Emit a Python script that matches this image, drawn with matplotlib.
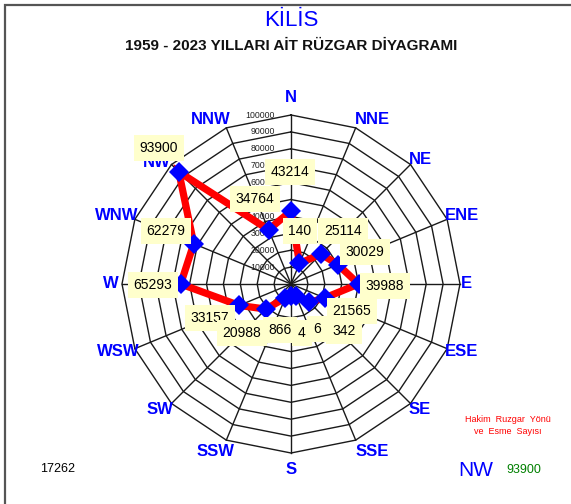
import matplotlib.pyplot as plt
import numpy as np
from matplotlib.patches import Rectangle

plt.rcParams['font.family'] = ['Liberation Sans', 'DejaVu Sans']

# Wind directions (clockwise from north) and counts
directions = ['N', 'NNE', 'NE', 'ENE', 'E', 'ESE', 'SE', 'SSE',
              'S', 'SSW', 'SW', 'WSW', 'W', 'WNW', 'NW', 'NNW']
counts = [43214, 13140, 25114, 30029, 39988, 21565, 15342, 7806,
          7304, 8866, 20988, 33157, 65293, 62279, 93900, 34764]
# labels as they show in the boxes (some are partly hidden by other boxes)
box_texts = ['43214', '140', '25114', '30029', '39988', '21565', '342', '6',
             '4', '866', '20988', '33157', '65293', '62279', '93900', '34764']
rings = [10000, 20000, 30000, 40000, 50000, 60000, 70000, 80000, 90000, 100000]

station = 'KİLİS'
subtitle = '1959 - 2023 YILLARI AİT RÜZGAR DİYAGRAMI'
calm_count = 17262
dominant_dir = 'NW'
dominant_count = 93900

# pixel layout helpers
W, H = 571, 504
cx, cy = 291, 284
scale = 100000 / 169.0


def px(x, y):
    return ((x - cx) * scale, (cy - y) * scale)


fig = plt.figure(figsize=(W / 100, H / 100), dpi=100)
ax = fig.add_axes([0, 0, 1, 1])
ax.set_xlim(px(0, 0)[0], px(W, 0)[0])
ax.set_ylim(px(0, H)[1], px(0, 0)[1])
ax.set_aspect('equal')
ax.axis('off')

# frame
fig.patches.append(Rectangle((5 / W, -0.1), 1.2, (H - 5) / H + 0.1, transform=fig.transFigure,
                             fill=False, edgecolor='#555555', linewidth=1.6))

ang = np.deg2rad(np.arange(16) * 22.5)

# polygon grid
for r in rings:
    xs = r * np.sin(np.append(ang, ang[0]))
    ys = r * np.cos(np.append(ang, ang[0]))
    ax.plot(xs, ys, color='#1a1a1a', lw=1.0, zorder=1)
for a in ang:
    ax.plot([0, rings[-1] * np.sin(a)], [0, rings[-1] * np.cos(a)], color='#1a1a1a', lw=1.0, zorder=1)

# ring values along north axis
for r in rings:
    x, _ = px(275, 0)
    ax.text(x, r, str(r), fontsize=6.3, ha='right', va='center', color='#222222', zorder=2)

# direction names (pixel positions of the names)
dir_pos = [(291, 98), (372, 120), (420, 160), (462, 216), (466, 284), (462, 352),
           (420, 410), (372, 451), (291, 470), (216, 451), (160, 410), (118, 352),
           (111, 284), (117, 216), (157, 163), (211, 120)]
for d, p in zip(directions, dir_pos):
    ax.text(*px(*p), d, fontsize=12, fontweight='bold', color='#0000FF',
            ha='center', va='center', zorder=2)

# rose line
c = np.array(counts, dtype=float)
xs = c * np.sin(ang)
ys = c * np.cos(ang)
ax.plot(np.append(xs, xs[0]), np.append(ys, ys[0]), color='#FF0000', lw=5.2, zorder=3,
        solid_joinstyle='miter')
ax.plot(xs, ys, 'D', color='#0000FF', markersize=10.5, zorder=4, markeredgewidth=0)

# value boxes (pixel positions of the label boxes)
box_pos = [(290, 172), (300, 231), (343, 231), (365, 252), (385, 286), (352, 311),
           (344, 331), (317, 329), (302, 333), (280, 330), (242, 333), (210, 318),
           (153, 285), (166, 231), (159, 148), (255, 199)]
order = [13, 14, 15, 0, 1, 2, 3, 4, 12, 11, 10, 9, 8, 7, 6, 5]
for i in order:
    x, y = px(*box_pos[i])
    ax.text(x, y, box_texts[i], fontsize=10, ha='center', va='center', zorder=5,
            bbox=dict(boxstyle='square,pad=0.42', facecolor='#FFFFCC', edgecolor='none'))

# titles and notes
ax.text(*px(291, 20), station, fontsize=16, color='#0000FF', ha='center', va='center')
ax.text(*px(291, 46), subtitle, fontsize=11, fontweight='bold', color='#111111',
        ha='center', va='center')
ax.text(*px(58, 469), str(calm_count), fontsize=9, ha='center', va='center')
ax.text(*px(508, 420), 'Hakim  Ruzgar  Yönü', fontsize=6.5, color='#FF0000', ha='center', va='center')
ax.text(*px(508, 432), 've  Esme  Sayısı', fontsize=6.5, color='#FF0000', ha='center', va='center')
ax.text(*px(476, 470), dominant_dir, fontsize=15, color='#0000FF', ha='center', va='center')
ax.text(*px(524, 470), str(dominant_count), fontsize=9, color='#008000', ha='center', va='center')

plt.savefig('out.png', dpi=100)
